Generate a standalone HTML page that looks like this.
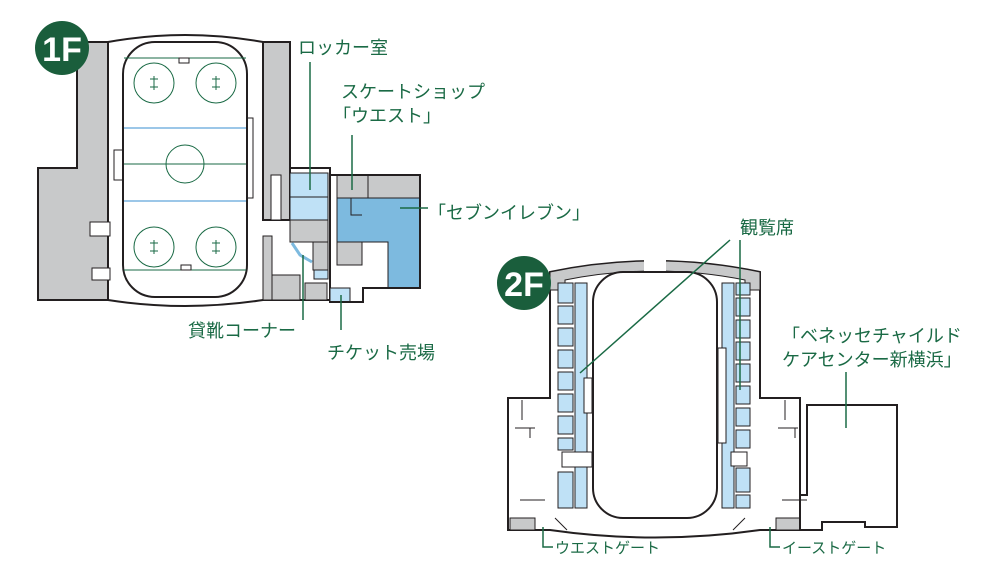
<!DOCTYPE html>
<html><head><meta charset="utf-8"><style>
html,body{margin:0;padding:0;background:#fff;width:1000px;height:583px;overflow:hidden}
text{font-family:"Liberation Sans","Noto Sans CJK JP",sans-serif;fill:#1a6a45;font-size:18px}
</style></head><body>
<svg width="1000" height="583" viewBox="0 0 1000 583" xmlns="http://www.w3.org/2000/svg">
<g stroke="#231f20" stroke-width="2">
<!-- 1F building -->
<path d="M77,42 L108,42 Q185,28 263,42 L290,42 L290,168 L330,168 L330,300 L290,300 L263,300 Q185,312 108,300 L38,300 L38,168 L77,168 Z" fill="#fff"/>
<path d="M77,42 L108,42 L108,300 L38,300 L38,168 L77,168 Z" fill="#c8c9ca"/>
<rect x="90" y="222" width="20" height="14" fill="#fff" stroke-width="1"/>
<rect x="92" y="268" width="18" height="12" fill="#fff" stroke-width="1"/>
<path d="M263,42 L290,42 L290,220 L263,220 Z" fill="#c8c9ca"/>
<path d="M263,236 L272,236 L272,300 L263,300 Z" fill="#c8c9ca" stroke-width="1"/>
<rect x="123" y="42" width="124" height="255" rx="32" fill="#fff"/>
<!-- annex -->
<path d="M330,175 L420,175 L420,288 L363,288 L363,302 L330,302 Z" fill="#fff"/>
<rect x="337" y="175" width="83" height="23" fill="#c8c9ca" stroke-width="1"/>
<line x1="368" y1="175" x2="368" y2="198" stroke-width="1"/>
<path d="M337,198 L420,198 L420,288 L388,288 L388,242 L337,242 Z" fill="#7dbadf" stroke-width="1"/>
<path d="M351,198 L351,215 L362,215" fill="none" stroke-width="1"/>
<rect x="337" y="242" width="25" height="23" fill="#c8c9ca" stroke-width="1"/>
<rect x="290" y="173" width="38" height="47" fill="#bfe1f6" stroke-width="1"/>
<line x1="290" y1="197" x2="328" y2="197" stroke-width="1"/>
<rect x="290" y="220" width="38" height="22" fill="#c8c9ca" stroke-width="1"/>
<rect x="313" y="242" width="15" height="28" fill="#c8c9ca" stroke-width="1"/>
<rect x="272" y="275" width="28" height="25" fill="#c8c9ca" stroke-width="1"/>
<rect x="305" y="283" width="22" height="17" fill="#c8c9ca" stroke-width="1"/>
<rect x="330" y="288" width="20" height="14" fill="#bfe1f6" stroke-width="1"/>
<rect x="314" y="270" width="14" height="9" fill="#bfe1f6" stroke-width="1"/>
<rect x="271" y="175" width="10" height="45" fill="#fff" stroke-width="1"/>
<path d="M292,243 L300,255 L312,262" stroke="#7dbadf" stroke-width="3" fill="none"/>
<path d="M330,168 L330,175 L420,175 L420,288 L363,288 L363,302 L330,302" fill="none"/>
</g>
<!-- rink markings 1F -->
<g stroke="#1a6a45" stroke-width="1" fill="none">
<line x1="124" y1="58" x2="246" y2="58"/><line x1="124" y1="164" x2="246" y2="164"/><line x1="124" y1="270" x2="246" y2="270"/>
<circle cx="154" cy="83" r="20"/><circle cx="216" cy="83" r="20"/><circle cx="154" cy="247" r="20"/><circle cx="216" cy="247" r="20"/><circle cx="185" cy="164" r="19"/>
<path d="M150,79h8M150,87h8M154,76v14M212,79h8M212,87h8M216,76v14M150,243h8M150,251h8M154,240v14M212,243h8M212,251h8M216,240v14"/>
</g>
<g stroke="#3a8fd0" stroke-width="1"><line x1="124" y1="128" x2="246" y2="128"/><line x1="124" y1="201" x2="246" y2="201"/></g>
<g stroke="#231f20" stroke-width="1" fill="none">
<rect x="179" y="58" width="10" height="5"/><rect x="181" y="265" width="10" height="5"/>
<rect x="114" y="150" width="9" height="30"/><rect x="247" y="118" width="6" height="80"/>
</g>
<!-- 2F -->
<g stroke="#231f20" stroke-width="2">
<path d="M550,272 Q655,250 760,272 L760,398 L800,398 L800,530 L760,530 Q655,545 550,530 L508,530 L508,398 L550,398 Z" fill="#fff"/>
<path d="M550,272 Q655,250 760,272 L760,290 L745,290 L745,280 Q655,262 565,280 L565,290 L550,290 Z" fill="#c8c9ca" stroke-width="1"/>
<rect x="644" y="258" width="22" height="14" fill="#fff" stroke="none"/>
<rect x="593" y="272" width="124" height="246" rx="30" fill="#fff"/>
<rect x="575" y="283" width="12" height="225" fill="#bfe1f6" stroke-width="1"/>
<rect x="722" y="283" width="12" height="225" fill="#bfe1f6" stroke-width="1"/>
<rect x="510" y="518" width="25" height="12" fill="#c8c9ca" stroke-width="1"/>
<rect x="776" y="518" width="24" height="12" fill="#c8c9ca" stroke-width="1"/>
<path d="M807,405 L897,405 L897,527 L865,527 L865,522 L822,522 L822,530 L800,530 L800,495 L807,495 Z" fill="#fff"/>
</g>
<g fill="#bfe1f6" stroke="#231f20" stroke-width="1">
<rect x="558" y="283" width="15" height="20"/><rect x="558" y="306" width="15" height="18"/><rect x="558" y="328" width="15" height="18"/><rect x="558" y="350" width="15" height="18"/><rect x="558" y="372" width="15" height="18"/><rect x="558" y="394" width="15" height="18"/><rect x="558" y="416" width="15" height="18"/><rect x="558" y="438" width="15" height="12"/><rect x="558" y="472" width="15" height="36"/>
<rect x="736" y="283" width="14" height="12"/><rect x="736" y="298" width="14" height="18"/><rect x="736" y="320" width="14" height="18"/><rect x="736" y="342" width="14" height="18"/><rect x="736" y="364" width="14" height="18"/><rect x="736" y="386" width="14" height="18"/><rect x="736" y="408" width="14" height="18"/><rect x="736" y="430" width="14" height="18"/><rect x="736" y="468" width="14" height="24"/><rect x="736" y="495" width="14" height="13"/>
</g>
<g stroke="#231f20" stroke-width="1" fill="none">
<rect x="584" y="378" width="8" height="35" fill="#fff"/><rect x="718" y="348" width="8" height="95" fill="#fff"/>
<rect x="562" y="452" width="30" height="15" fill="#fff"/><rect x="731" y="452" width="16" height="14" fill="#fff"/>
<path d="M522,400v20M515,428h20M530,428v10M520,500h25M785,400v20M778,428h20M795,428v10M782,500h25"/>
<path d="M555,518l12,12M745,518l-12,12"/>
</g>
<!-- badges -->
<circle cx="62" cy="48" r="27" fill="#1a5e3c"/>
<text x="62" y="61" text-anchor="middle" style="fill:#fff;font-size:34px;font-weight:bold">1F</text>
<circle cx="524" cy="283" r="27" fill="#1a5e3c"/>
<text x="524" y="296" text-anchor="middle" style="fill:#fff;font-size:34px;font-weight:bold">2F</text>
<!-- leaders -->
<g stroke="#1a6a45" stroke-width="1.5" fill="none">
<line x1="310" y1="62" x2="310" y2="190"/>
<line x1="352" y1="135" x2="352" y2="190"/>
<line x1="400" y1="208" x2="428" y2="208"/>
<line x1="303" y1="255" x2="303" y2="320"/>
<line x1="341" y1="295" x2="341" y2="330"/>
<line x1="740" y1="240" x2="740" y2="390"/>
<line x1="730" y1="240" x2="580" y2="373"/>
<line x1="846" y1="372" x2="846" y2="428"/>
<path d="M543,527v20h10M770,527v20h10"/>
</g>
<text x="298" y="54">ロッカー室</text>
<text x="341" y="98">スケートショップ</text>
<text x="333" y="122">「ウエスト」</text>
<text x="428" y="219">「セブンイレブン」</text>
<text x="188" y="337">貸靴コーナー</text>
<text x="327" y="359">チケット売場</text>
<text x="740" y="234">観覧席</text>
<text x="782" y="342">「ベネッセチャイルド</text>
<text x="782" y="366">ケアセンター新横浜」</text>
<text x="555" y="553" style="font-size:15px">ウエストゲート</text>
<text x="782" y="553" style="font-size:15px">イーストゲート</text>
</svg>
</body></html>
